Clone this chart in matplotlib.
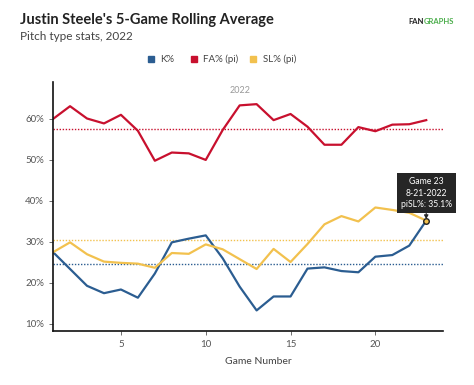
import matplotlib.pyplot as plt
from matplotlib.patches import Rectangle

plt.rcParams['font.family'] = ['Lato', 'DejaVu Sans']

# 5-game rolling averages, games 1..23
games = list(range(1, 24))
k_pct = [27.4, 23.3, 19.2, 17.4, 18.3, 16.3, 22.2, 29.8, 30.7, 31.5, 25.9, 19.0,
         13.2, 16.6, 16.6, 23.4, 23.7, 22.8, 22.5, 26.3, 26.7, 29.0, 35.1]
fa_pct = [59.9, 63.0, 60.0, 58.8, 60.9, 57.0, 49.7, 51.7, 51.5, 49.9, 57.2, 63.2,
          63.5, 59.6, 61.1, 58.0, 53.6, 53.6, 57.9, 56.9, 58.5, 58.6, 59.6]
sl_pct = [27.4, 29.8, 26.9, 25.1, 24.8, 24.6, 23.6, 27.2, 27.0, 29.3, 28.1, 25.7,
          23.3, 28.2, 25.0, 29.4, 34.2, 36.2, 34.9, 38.3, 37.7, 37.0, 35.1]
# season averages (dotted lines)
k_avg, fa_avg, sl_avg = 24.4, 57.4, 30.3

series_names = ["K%", "FA% (pi)", "SL% (pi)"]
colors = ["#2b5d91", "#c8102e", "#f2c14e"]

fig = plt.figure(figsize=(4.74, 3.85), dpi=100)
ax = fig.add_axes([0.112, 0.141, 0.823, 0.646])

for avg, c in zip([k_avg, fa_avg, sl_avg], colors):
    ax.axhline(avg, color=c, lw=1.0, ls=(0, (1, 1.2)))
for vals, c in zip([k_pct, fa_pct, sl_pct], colors):
    ax.plot(games, vals, color=c, lw=1.6)

# highlighted point + tooltip
ax.plot(games[-1], sl_pct[-1], 'o', ms=4, mfc=colors[2], mec="#222222", mew=1.0, zorder=7)
ax.annotate("Game 23\n8-21-2022\npiSL%: 35.1%", xy=(games[-1], sl_pct[-1] + 0.4),
            xytext=(games[-1], 41.8), ha="center", va="center",
            fontsize=6.2, color="white", linespacing=1.4,
            bbox=dict(boxstyle="square,pad=0.45", fc="#262626", ec="none"),
            arrowprops=dict(arrowstyle="-|>,head_width=0.2,head_length=0.35",
                            color="#262626", lw=0.8, shrinkA=0, shrinkB=0), zorder=6)

ax.text(12, 66.8, "2022", ha="center", va="center", fontsize=6.5, color="#999999")

ax.set_xlim(1, 24)
ax.set_ylim(8.25, 68.9)
ax.set_xticks([5, 10, 15, 20])
ax.set_yticks([10, 20, 30, 40, 50, 60])
ax.set_yticklabels([f"{v}%" for v in [10, 20, 30, 40, 50, 60]])
ax.tick_params(labelsize=7, colors="#555555", length=3, width=0.6)
ax.tick_params(axis="x", pad=4)
for s in ["top", "right"]:
    ax.spines[s].set_visible(False)
for s in ["left", "bottom"]:
    ax.spines[s].set_color("#111111")
    ax.spines[s].set_linewidth(1.2)

fig.text(0.545, 0.06, "Game Number", ha="center", va="center", fontsize=7.5, color="#444444")

# titles
fig.text(0.042, 0.947, "Justin Steele's 5-Game Rolling Average", fontsize=10.5,
         fontweight="bold", color="#222222", va="center")
fig.text(0.042, 0.905, "Pitch type stats, 2022", fontsize=8.5, color="#444444", va="center")

# logo
fig.text(0.862, 0.945, "FAN", fontsize=5.5, fontweight="bold", color="#222222", va="center")
fig.text(0.895, 0.945, "GRAPHS", fontsize=5.5, fontweight="bold", color="#4cae4c", va="center")

# legend
leg_x = [0.312, 0.402, 0.528]
for x, name, c in zip(leg_x, series_names, colors):
    fig.patches.append(Rectangle((x, 0.838), 0.013, 0.016, transform=fig.transFigure,
                                 color=c, figure=fig))
    fig.text(x + 0.026, 0.846, name, fontsize=7, color="#444444", va="center")

fig.savefig("out.png", dpi=100)
